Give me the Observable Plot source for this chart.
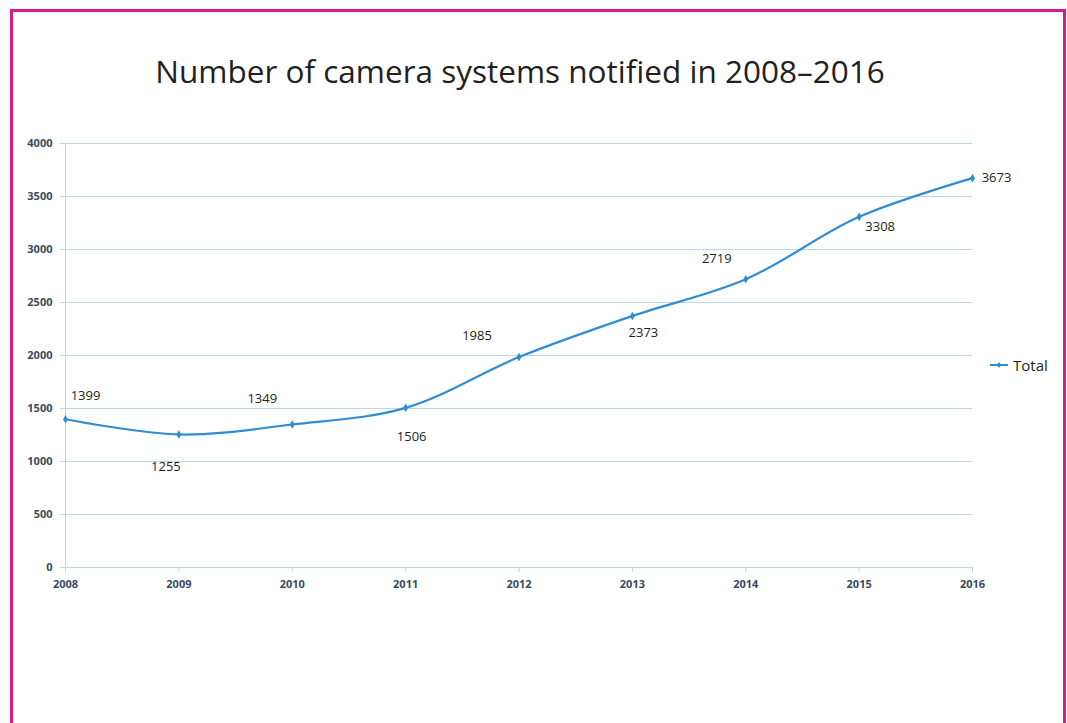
<!DOCTYPE html>
<html>
<head>
<meta charset="utf-8">
<script src="https://cdn.jsdelivr.net/npm/d3@7"></script>
<script src="https://cdn.jsdelivr.net/npm/@observablehq/plot@0.6"></script>
<style>
  html, body { margin: 0; padding: 0; background: #fff; overflow: hidden; width: 1067px; height: 723px; }
  #frame { position: absolute; left: 10px; top: 9px; width: 1056px; height: 780px; border: 3px solid #d81b8c; box-sizing: border-box; }
  #title { position: absolute; left: 0; top: 49px; width: 1040px; text-align: center; font-family: "Open Sans"; font-size: 31.5px; color: #231f20; white-space: nowrap; }
  #chart { position: absolute; left: 0; top: 0; }
  #legend { position: absolute; left: 990px; top: 355px; font-family: "Open Sans"; font-size: 15px; color: #231f20; display: flex; align-items: center; gap: 5px; }
</style>
</head>
<body>
<div id="chart"></div>
<div id="frame"></div>
<div id="title"></div>
<div id="legend"></div>
<script>
// ---- data ----
const titleText = "Number of camera systems notified in 2008–2016";
const seriesName = "Total";
const years = [2008, 2009, 2010, 2011, 2012, 2013, 2014, 2015, 2016];
const totals = [1399, 1255, 1349, 1506, 1985, 2373, 2719, 3308, 3673];
const yTicks = [0, 500, 1000, 1500, 2000, 2500, 3000, 3500, 4000];

// ---- layout (label placement offsets, px) ----
const labelDx = [20, -13, -30, 6, -42, 11, -29, 21, 24];
const labelDy = [-23, 32, -26, 29, -21, 17, -20, 10, 0];

const lineColor = "#2e8dd5";
const gridColor = "#bcd6e9";
const tickText = "#3a4a5c";

const data = years.map((y, i) => ({ year: y, total: totals[i] }));

document.getElementById("title").textContent = titleText;

const labelMarks = data.map((d, i) =>
  Plot.text([d], {
    x: "year", y: "total", text: d => String(d.total),
    dx: labelDx[i], dy: labelDy[i],
    fontSize: 13, fill: "#231f20", textAnchor: "middle"
  })
);

const chart = Plot.plot({
  width: 1067,
  height: 723,
  marginLeft: 65,
  marginRight: 95,
  marginTop: 143,
  marginBottom: 156,
  style: { fontFamily: "Open Sans", background: "transparent" },
  x: { domain: [2008, 2016], axis: null },
  y: { domain: [0, 4000], axis: null },
  marks: [
    Plot.ruleY(yTicks, { stroke: gridColor, strokeWidth: 1 }),
    Plot.ruleX([2008], { y1: 0, y2: 4000, stroke: gridColor }),
    Plot.axisY({ ticks: yTicks, tickSize: 5, tickPadding: 8, stroke: gridColor, fill: tickText, fontSize: 11, fontWeight: "bold", label: null, tickFormat: d => String(d) }),
    Plot.axisX({ ticks: years, tickSize: 5, tickPadding: 8, stroke: gridColor, fill: tickText, fontSize: 11, fontWeight: "bold", label: null, tickFormat: d => String(d) }),
    Plot.line(data, { x: "year", y: "total", curve: "catmull-rom", stroke: lineColor, strokeWidth: 2.2 }),
    Plot.dot(data, { x: "year", y: "total", r: 2.6, symbol: "diamond", fill: lineColor }),
    ...labelMarks
  ]
});
document.getElementById("chart").appendChild(chart);

// legend
const lg = document.getElementById("legend");
lg.innerHTML = `<svg width="18" height="10"><line x1="0" y1="5" x2="18" y2="5" stroke="${lineColor}" stroke-width="2"/><path d="M9 2.2 L11.8 5 L9 7.8 L6.2 5 Z" fill="${lineColor}"/></svg><span></span>`;
lg.querySelector("span").textContent = seriesName;
</script>
</body>
</html>
